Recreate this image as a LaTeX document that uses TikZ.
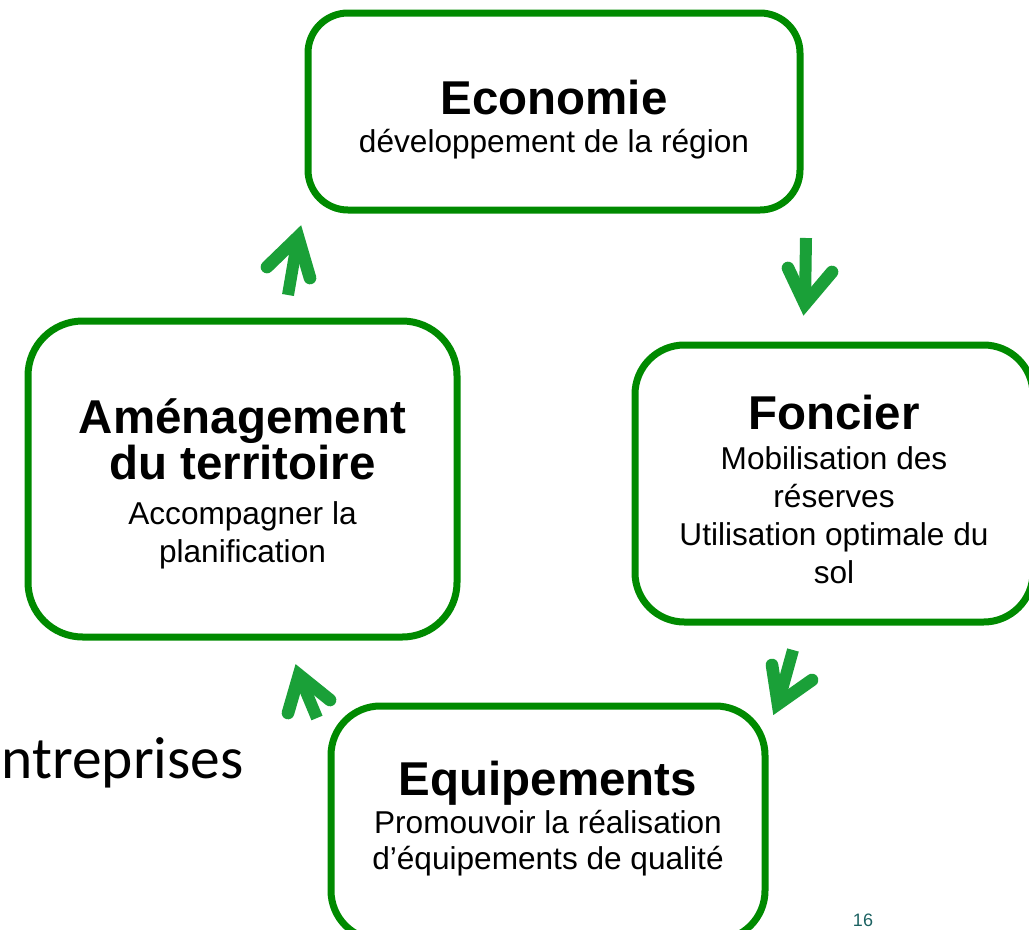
\documentclass[tikz,border=0pt]{standalone}
\usepackage{fontspec}
\setmainfont{Liberation Sans}
\newfontfamily\calibri{Carlito}

\definecolor{vertboite}{RGB}{0,138,0}
\definecolor{vertfleche}{RGB}{26,160,56}
\definecolor{numpage}{RGB}{28,98,98}

\newcommand{\titre}[1]{{\fontsize{35.6}{33}\selectfont\bfseries #1}}

\tikzset{
	boite/.style={draw=vertboite, line width=5.25pt, rectangle, inner sep=0pt},
	texte/.style={align=center, inner sep=0pt, font=\fontsize{23.7}{28.5}\selectfont},
	fleche/.style={draw=vertfleche, line width=9pt, line cap=butt},
	pointe/.style={draw=vertfleche, line width=9.5pt, line cap=round, line join=miter}
}

\begin{document}
\begin{tikzpicture}[x=0.75pt,y=-0.75pt]
	\useasboundingbox (0,0) rectangle (1029,929);
	\clip (0,0) rectangle (1029,929);

	\node[anchor=base west, font=\calibri\fontsize{44.6}{50}\selectfont] (entr) at (-3,778) {ntreprises};

	% boites
	\node[boite, rounded corners=30pt, minimum width=369pt, minimum height=147.75pt] (eco) at (554,111.5) {};
	\node[boite, rounded corners=41pt, minimum width=321.75pt, minimum height=237pt] (amen) at (242.5,479) {};
	\node[boite, rounded corners=37pt, minimum width=298.5pt, minimum height=207.75pt] (fonc) at (834,483.5) {};
	\node[boite, rounded corners=37pt, minimum width=325.5pt, minimum height=175.5pt] (equi) at (548,823) {};

	% textes
	\node[texte] (eco-txt) at (554,120)
		{\titre{Economie}\\développement de la région};
	\node[texte] (amen-txt) at (242.5,484)
		{\titre{Aménagement}\\\titre{du territoire}\\[5pt]Accompagner la\\planification};
	\node[texte] (fonc-txt) at (834,489)
		{\titre{Foncier}\\[1.5pt]Mobilisation des\\réserves\\Utilisation optimale du\\sol};
	\node[texte, font=\fontsize{23.7}{26.5}\selectfont] (equi-txt) at (548,818.5)
		{\titre{Equipements}\\[2pt]Promouvoir la réalisation\\d’équipements de qualité};

	\node[anchor=base, text=numpage, font=\fontsize{13.5}{16}\selectfont] (num) at (863,926) {16};

	% fleches
	\coordinate (a1s) at (288,295);
	\coordinate (a1t) at (298,237);
	\coordinate (a1l) at (267,267);
	\coordinate (a1r) at (310,278);

	\coordinate (a2s) at (806,238);
	\coordinate (a2t) at (805,304);
	\coordinate (a2l) at (788,268);
	\coordinate (a2r) at (832,272);

	\coordinate (a3s) at (793,650);
	\coordinate (a3t) at (778,704);
	\coordinate (a3l) at (772,665);
	\coordinate (a3r) at (812,680);

	\coordinate (a4s) at (317,718);
	\coordinate (a4t) at (299,675);
	\coordinate (a4l) at (288,713);
	\coordinate (a4r) at (330,700);

	\path[fleche] (a1s) edge (a1t);
	\path[fleche] (a2s) edge (a2t);
	\path[fleche] (a3s) edge (a3t);
	\path[fleche] (a4s) edge (a4t);

	\draw[pointe] (a1l) -- (a1t) -- (a1r);
	\draw[pointe] (a2l) -- (a2t) -- (a2r);
	\draw[pointe] (a3l) -- (a3t) -- (a3r);
	\draw[pointe] (a4l) -- (a4t) -- (a4r);
\end{tikzpicture}
\end{document}
